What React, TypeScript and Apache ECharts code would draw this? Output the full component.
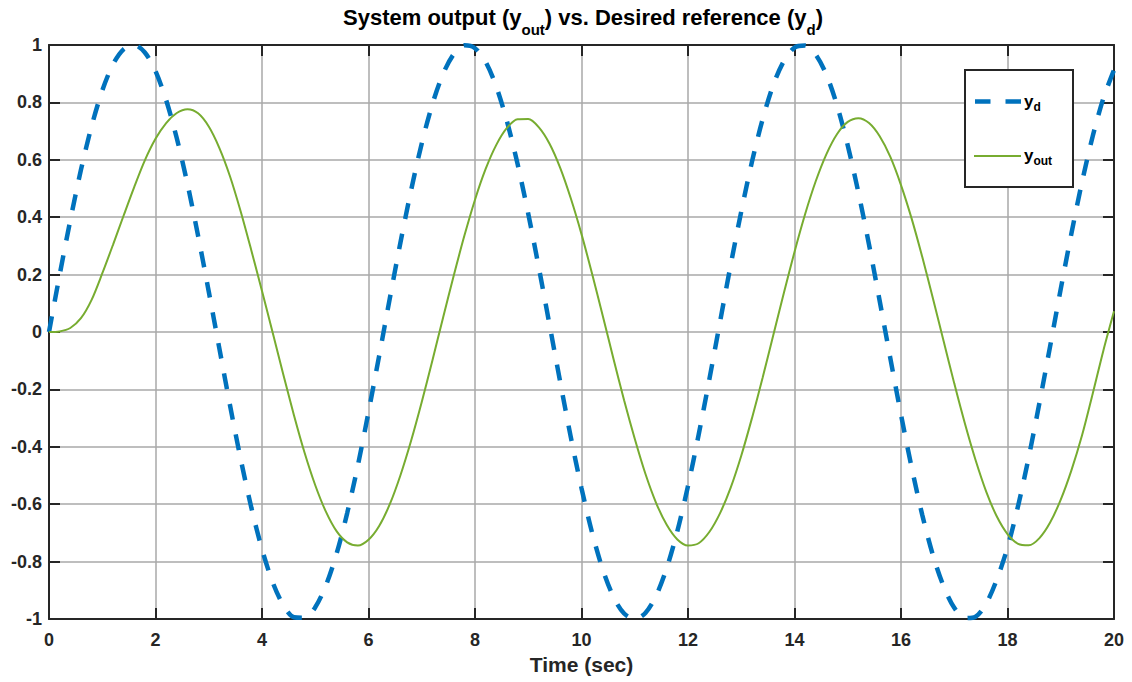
import React, { useEffect, useRef } from 'react';
import * as echarts from 'echarts';

// Time samples (sec)
const timeSec = [
  0, 0.2, 0.4, 0.6, 0.8, 1, 1.2, 1.4, 1.6, 1.8, 2, 2.2, 2.4, 2.6, 2.8, 3, 3.2, 3.4, 3.6, 3.8,
  4, 4.2, 4.4, 4.6, 4.8, 5, 5.2, 5.4, 5.6, 5.8, 6, 6.2, 6.4, 6.6, 6.8, 7, 7.2, 7.4, 7.6, 7.8,
  8, 8.2, 8.4, 8.6, 8.8, 9, 9.2, 9.4, 9.6, 9.8, 10, 10.2, 10.4, 10.6, 10.8, 11, 11.2, 11.4, 11.6, 11.8,
  12, 12.2, 12.4, 12.6, 12.8, 13, 13.2, 13.4, 13.6, 13.8, 14, 14.2, 14.4, 14.6, 14.8, 15, 15.2, 15.4, 15.6, 15.8,
  16, 16.2, 16.4, 16.6, 16.8, 17, 17.2, 17.4, 17.6, 17.8, 18, 18.2, 18.4, 18.6, 18.8, 19, 19.2, 19.4, 19.6, 19.8,
  20,
];

// Desired reference y_d
const yDesired = [
  0, 0.199, 0.389, 0.565, 0.717, 0.841, 0.932, 0.985, 1.0, 0.974, 0.909, 0.808, 0.675, 0.516, 0.335, 0.141, -0.058, -0.256, -0.443, -0.612,
  -0.757, -0.872, -0.952, -0.994, -0.996, -0.959, -0.883, -0.773, -0.631, -0.465, -0.279, -0.083, 0.117, 0.312, 0.494, 0.657, 0.794, 0.899, 0.968, 0.999,
  0.989, 0.941, 0.855, 0.734, 0.585, 0.412, 0.223, 0.025, -0.174, -0.367, -0.544, -0.7, -0.828, -0.923, -0.981, -1.0, -0.979, -0.919, -0.823, -0.694,
  -0.537, -0.358, -0.166, 0.034, 0.232, 0.42, 0.592, 0.74, 0.86, 0.944, 0.991, 0.998, 0.966, 0.896, 0.789, 0.65, 0.486, 0.304, 0.108, -0.092,
  -0.288, -0.472, -0.638, -0.778, -0.886, -0.961, -0.997, -0.992, -0.946, -0.862, -0.751, -0.605, -0.435, -0.247, -0.05, 0.15, 0.343, 0.523, 0.682, 0.814,
  0.913,
];

// System output y_out
const yOutput = [
  0, 0.002, 0.014, 0.048, 0.112, 0.204, 0.303, 0.405, 0.505, 0.598, 0.673, 0.728, 0.763, 0.776, 0.762, 0.716, 0.641, 0.542, 0.42, 0.284,
  0.143, -0.002, -0.148, -0.29, -0.421, -0.534, -0.626, -0.694, -0.733, -0.744, -0.724, -0.676, -0.6, -0.499, -0.379, -0.244, -0.099, 0.05, 0.196, 0.335,
  0.461, 0.568, 0.652, 0.711, 0.741, 0.742, 0.713, 0.656, 0.572, 0.465, 0.341, 0.202, 0.056, -0.093, -0.238, -0.372, -0.494, -0.595, -0.672, -0.723,
  -0.744, -0.736, -0.697, -0.632, -0.543, -0.431, -0.301, -0.16, -0.012, 0.136, 0.279, 0.411, 0.526, 0.62, 0.69, 0.732, 0.745, 0.728, 0.682, 0.61,
  0.512, 0.395, 0.261, 0.117, -0.031, -0.179, -0.319, -0.446, -0.556, -0.643, -0.704, -0.738, -0.743, -0.718, -0.664, -0.584, -0.482, -0.36, -0.215, -0.065,
  0.072,
];

const xTickInterval = 2;
const yTickInterval = 0.2;

const FONT = '"Liberation Sans", Arial, Helvetica, sans-serif';
const AXIS_COLOR = '#262626';
const GRID_COLOR = '#a8a8a8';

export default function App() {
  const ref = useRef<HTMLDivElement>(null);

  useEffect(() => {
    document.body.style.margin = '0';
    if (!ref.current) return;
    const chart = echarts.init(ref.current, undefined, { renderer: 'svg' });

    const dData = timeSec.map((t, i) => [t, yDesired[i]]);
    const oData = timeSec.map((t, i) => [t, yOutput[i]]);

    const labelStyle = {
      fontFamily: FONT,
      fontWeight: 'bold' as const,
      fontSize: 18,
      color: AXIS_COLOR,
    };

    const lineCommon = { show: true, onZero: false, lineStyle: { color: AXIS_COLOR, width: 2 } };
    const tickCommon = { show: true, inside: true, length: 11, lineStyle: { color: AXIS_COLOR, width: 2 } };

    const option: any = {
      animation: false,
      backgroundColor: '#ffffff',
      title: {
        text: '{m|System output (y}{s|out}{m|) vs. Desired reference (y}{s|d}{m|)}',
        left: 583,
        top: -2,
        textAlign: 'center',
        padding: 0,
        textStyle: {
          rich: {
            m: { fontFamily: FONT, fontWeight: 'bold', fontSize: 22, color: '#000', verticalAlign: 'middle' },
            s: { fontFamily: FONT, fontWeight: 'bold', fontSize: 15, color: '#000', verticalAlign: 'middle', padding: [24, 0, 0, 0] },
          },
        },
      },
      grid: { left: 49, right: 18, top: 45, bottom: 63 },
      xAxis: [
        {
          type: 'value',
          min: 0,
          max: 20,
          interval: xTickInterval,
          position: 'bottom',
          axisLine: lineCommon,
          axisTick: tickCommon,
          axisLabel: { ...labelStyle, margin: 12 },
          splitLine: { show: true, lineStyle: { color: GRID_COLOR, width: 1.5 } },
          name: 'Time (sec)',
          nameLocation: 'middle',
          nameGap: 33,
          nameTextStyle: { ...labelStyle, fontSize: 21 },
        },
        {
          type: 'value',
          min: 0,
          max: 20,
          interval: xTickInterval,
          position: 'top',
          axisLine: lineCommon,
          axisTick: tickCommon,
          axisLabel: { show: false },
          splitLine: { show: false },
        },
      ],
      yAxis: [
        {
          type: 'value',
          min: -1,
          max: 1,
          interval: yTickInterval,
          position: 'left',
          axisLine: lineCommon,
          axisTick: tickCommon,
          axisLabel: { ...labelStyle, margin: 7 },
          splitLine: { show: true, lineStyle: { color: GRID_COLOR, width: 1.5 } },
        },
        {
          type: 'value',
          min: -1,
          max: 1,
          interval: yTickInterval,
          position: 'right',
          axisLine: lineCommon,
          axisTick: tickCommon,
          axisLabel: { show: false },
          splitLine: { show: false },
        },
      ],
      series: [
        {
          name: 'y_d',
          type: 'line',
          xAxisIndex: 0,
          yAxisIndex: 0,
          data: dData,
          showSymbol: false,
          symbol: 'none',
          smooth: 0.3,
          clip: false,
          lineStyle: { color: '#0072BD', width: 4.5, type: [16, 15] },
          z: 3,
        },
        {
          name: 'y_out',
          type: 'line',
          xAxisIndex: 0,
          yAxisIndex: 0,
          data: oData,
          showSymbol: false,
          symbol: 'none',
          smooth: 0.3,
          clip: false,
          lineStyle: { color: '#77AC30', width: 2 },
          z: 4,
        },
      ],
      graphic: [
        {
          type: 'rect',
          z: 100,
          shape: { x: 965, y: 70, width: 108, height: 117 },
          style: { fill: '#ffffff', stroke: AXIS_COLOR, lineWidth: 2 },
        },
        {
          type: 'line',
          z: 101,
          shape: { x1: 975, y1: 101.5, x2: 1021, y2: 101.5 },
          style: { stroke: '#0072BD', lineWidth: 4.5, lineDash: [15.5, 15] },
        },
        {
          type: 'line',
          z: 101,
          shape: { x1: 974, y1: 156, x2: 1021, y2: 156 },
          style: { stroke: '#77AC30', lineWidth: 2 },
        },
        {
          type: 'text',
          z: 101,
          x: 1024,
          y: 101,
          style: {
            text: '{m|y}{s|d}',
            verticalAlign: 'middle',
            rich: {
              m: { fontFamily: FONT, fontWeight: 'bold', fontSize: 17, fill: '#000', verticalAlign: 'middle' },
              s: { fontFamily: FONT, fontWeight: 'bold', fontSize: 12, fill: '#000', verticalAlign: 'middle', padding: [12, 0, 0, 0] },
            },
          },
        },
        {
          type: 'text',
          z: 101,
          x: 1024,
          y: 155,
          style: {
            text: '{m|y}{s|out}',
            verticalAlign: 'middle',
            rich: {
              m: { fontFamily: FONT, fontWeight: 'bold', fontSize: 17, fill: '#000', verticalAlign: 'middle' },
              s: { fontFamily: FONT, fontWeight: 'bold', fontSize: 12, fill: '#000', verticalAlign: 'middle', padding: [12, 0, 0, 0] },
            },
          },
        },
      ],
    };

    chart.setOption(option);
    return () => chart.dispose();
  }, []);

  return (
    <div
      ref={ref}
      style={{ position: 'absolute', left: 0, top: 0, width: 1132, height: 682, background: '#fff' }}
    />
  );
}
